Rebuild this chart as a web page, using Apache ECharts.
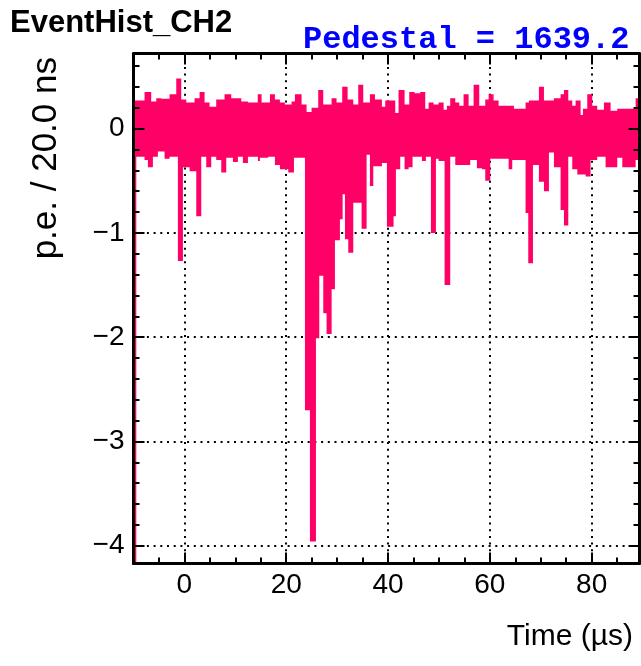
<!DOCTYPE html>
<html><head><meta charset="utf-8">
<script src="https://cdn.jsdelivr.net/npm/echarts@6/dist/echarts.min.js"></script>
<style>html,body{margin:0;padding:0;background:#fff}#c{width:641px;height:666px}</style>
</head><body><div id="c"></div><script>
// Histogram envelope (variable-width steps): bin start time (µs) and value (p.e.)
const upperStart = [-10, -7.83, -6.52, -5.53, -4.55, -2.91, -1.60, -0.62, 0.36, 2.00, 2.98, 3.96, 4.94, 6.25, 7.89, 9.20, 11.17, 12.48, 14.4, 15.16, 16.80, 17.78, 18.76, 19.74, 21.05, 21.71, 23.02, 24.0, 24.98, 26.29, 27.27, 28.91, 29.89, 31.0, 32.06, 33.17, 34.15, 35.13, 36.44, 37.43, 38.8, 39.45, 41.42, 42.07, 43.25, 44.17, 45.22, 46.33, 47.31, 47.97, 48.95, 49.93, 50.92, 51.57, 52.22, 53.21, 53.99, 54.84, 55.83, 56.81, 57.92, 59.10, 59.76, 60.74, 61.72, 63.75, 64.73, 67.02, 67.68, 69.64, 70.63, 72.59, 73.9, 74.56, 75.41, 76.19, 76.85, 77.83, 78.29, 79.14, 80.12, 81.1, 82.41, 83.72, 85.03, 88.64];
const upperValue = [0.27, 0.35, 0.26, 0.29, 0.285, 0.33, 0.48, 0.28, 0.25, 0.29, 0.35, 0.25, 0.21, 0.28, 0.33, 0.29, 0.26, 0.25, 0.33, 0.25, 0.33, 0.28, 0.25, 0.23, 0.26, 0.33, 0.23, 0.16, 0.20, 0.37, 0.23, 0.29, 0.25, 0.40, 0.28, 0.23, 0.42, 0.25, 0.33, 0.28, 0.21, 0.27, 0.15, 0.37, 0.23, 0.35, 0.34, 0.35, 0.19, 0.25, 0.23, 0.25, 0.18, 0.22, 0.29, 0.25, 0.22, 0.33, 0.22, 0.42, 0.22, 0.28, 0.33, 0.27, 0.22, 0.22, 0.19, 0.25, 0.27, 0.40, 0.27, 0.29, 0.33, 0.37, 0.27, 0.22, 0.27, 0.13, 0.19, 0.33, 0.22, 0.18, 0.25, 0.17, 0.19, 0.29];
const lowerStart = [-10, -9.45, -7.83, -7.17, -6.19, -5.21, -3.90, -2.91, -1.28, -0.29, 1.02, 2.33, 3.31, 4.29, 5.27, 6.25, 7.24, 8.22, 9.53, 10.51, 11.49, 12.48, 14.44, 14.83, 16.47, 17.78, 18.76, 20.4, 21.52, 23.68, 24.66, 25.84, 26.49, 27.28, 27.93, 28.92, 29.57, 30.55, 31.08, 31.54, 32.19, 33.17, 34.81, 35.79, 36.44, 37.1, 38.8, 39.78, 41.09, 41.55, 42.4, 43.25, 44.04, 44.82, 46.66, 47.44, 48.43, 49.41, 49.93, 51.11, 52.22, 53.21, 56.15, 57.46, 58.45, 59.10, 60.08, 63.69, 64.4, 67.02, 67.55, 68.47, 69.64, 70.63, 71.61, 72.59, 73.9, 74.56, 75.41, 76.19, 77.18, 78.81, 79.79, 81.1, 82.74, 85.03, 86.02, 88.64];
const lowerValue = [-4.3, -0.27, -0.30, -0.37, -0.27, -0.22, -0.29, -0.27, -1.27, -0.37, -0.41, -0.84, -0.27, -0.37, -0.27, -0.30, -0.42, -0.28, -0.32, -0.27, -0.33, -0.27, -0.31, -0.28, -0.27, -0.35, -0.39, -0.42, -0.28, -2.70, -3.96, -2.01, -1.41, -1.77, -1.97, -1.54, -1.07, -0.87, -0.63, -1.06, -1.19, -0.71, -0.96, -0.25, -0.55, -0.36, -0.33, -0.94, -0.84, -0.39, -0.27, -0.39, -0.37, -0.27, -0.31, -0.27, -1.0, -0.29, -0.31, -1.50, -0.27, -0.35, -0.30, -0.38, -0.39, -0.50, -0.29, -0.39, -0.30, -0.81, -1.29, -0.35, -0.51, -0.60, -0.23, -0.37, -0.78, -0.93, -0.27, -0.39, -0.44, -0.46, -0.30, -0.27, -0.37, -0.28, -0.37, -0.30];
const xTickLabels = [0, 20, 40, 60, 80];
const yTickLabels = [-4, -3, -2, -1, 0];
const titleText = 'EventHist_CH2';
const pedestalText = 'Pedestal = 1639.2';
const xTitle = 'Time (µs)';
const yTitle = 'p.e. / 20.0 ns';

const X_MIN = -10, X_MAX = 89.4, Y_MIN = -4.17, Y_MAX = 0.72;
const PINK = '#ff0066';
const FONT = "'Liberation Sans', Arial, Helvetica, sans-serif";

const xMinor = [];
for (let v = -5; v < X_MAX; v += 5) if (v % 20 !== 0) xMinor.push(v);
const yMinor = [];
for (let i = -20; i * 0.2 <= Y_MAX; i++) { const v = Math.round(i * 2) / 10; if (Math.abs(v - Math.round(v)) > 1e-6 && v >= Y_MIN) yMinor.push(v); }

const chart = echarts.init(document.getElementById('c'), null, {renderer: 'canvas'});

function frameAxis(pos, ticks, len, withLine, isX) {
  return {
    type: 'value', min: isX ? X_MIN : Y_MIN, max: isX ? X_MAX : Y_MAX, position: pos, z: 10,
    axisLine: {show: withLine, onZero: false, lineStyle: {color: '#000', width: 3}},
    axisTick: {show: true, inside: true, length: len, customValues: ticks, lineStyle: {color: '#000', width: 2}},
    axisLabel: {show: false}, splitLine: {show: false}
  };
}
const gridLine = {show: true, lineStyle: {color: '#000', width: 2, type: [2, 4.7]}};
const option = {
  animation: false,
  backgroundColor: '#fff',
  grid: {left: 133.5, right: 1.5, top: 53.5, bottom: 102.5, containLabel: false, outerBoundsMode: 'none'},
  xAxis: [
    {type: 'value', min: X_MIN, max: X_MAX, position: 'bottom', z: 0,
     axisLine: {show: false, onZero: false}, axisTick: {show: false},
     axisLabel: {show: true, customValues: xTickLabels, margin: 8, fontSize: 28, color: '#000', fontFamily: FONT},
     splitLine: gridLine},
    frameAxis('bottom', xTickLabels, 11, true, true),
    frameAxis('bottom', xMinor, 6, false, true),
    frameAxis('top', xTickLabels, 11, true, true),
    frameAxis('top', xMinor, 6, false, true)
  ],
  yAxis: [
    {type: 'value', min: Y_MIN, max: Y_MAX, position: 'left', z: 0,
     axisLine: {show: false, onZero: false}, axisTick: {show: false},
     axisLabel: {show: true, customValues: yTickLabels, margin: 9, fontSize: 28, color: '#000', fontFamily: FONT,
       formatter: v => (v < 0 ? '\u2212' + Math.abs(v) : String(v))},
     splitLine: gridLine},
    frameAxis('left', yTickLabels, 11, true, false),
    frameAxis('left', yMinor, 6, false, false),
    frameAxis('right', yTickLabels, 11, true, false),
    frameAxis('right', yMinor, 6, false, false)
  ],
  series: [{
    type: 'custom', xAxisIndex: 0, yAxisIndex: 0, z: 2, silent: true,
    data: [[upperStart[0], 0]],
    renderItem: function (params, api) {
      const cy = v => Math.max(Y_MIN, Math.min(Y_MAX, v));
      const pts = [];
      for (let i = 0; i < upperStart.length; i++) {
        const t0 = upperStart[i], t1 = i + 1 < upperStart.length ? upperStart[i + 1] : X_MAX;
        const v = cy(upperValue[i]);
        pts.push(api.coord([t0, v]), api.coord([t1, v]));
      }
      for (let i = lowerStart.length - 1; i >= 0; i--) {
        const t0 = lowerStart[i], t1 = i + 1 < lowerStart.length ? lowerStart[i + 1] : X_MAX;
        const v = cy(lowerValue[i]);
        pts.push(api.coord([t1, v]), api.coord([t0, v]));
      }
      return {type: 'polygon', shape: {points: pts}, style: {fill: PINK, stroke: null}};
    }
  }],
  graphic: [
    {type: 'text', x: 10, y: 23, z: 20, style: {text: titleText, font: "bold 31px " + FONT, fill: '#000', textVerticalAlign: 'middle'}},
    {type: 'text', x: 303, y: 40, z: 20, style: {text: pedestalText, font: "bold 32px 'Liberation Mono', 'Courier New', monospace", fill: '#0000ff', textVerticalAlign: 'middle'}},
    {type: 'text', x: 633, y: 637, z: 20, style: {text: xTitle, font: "30px " + FONT, fill: '#000', textAlign: 'right', textVerticalAlign: 'middle'}},
    {type: 'text', x: 46, y: 57, rotation: Math.PI / 2, z: 20, style: {text: yTitle, font: "35px " + FONT, fill: '#000', textAlign: 'right', textVerticalAlign: 'middle'}}
  ]
};
chart.setOption(option);
</script></body></html>
